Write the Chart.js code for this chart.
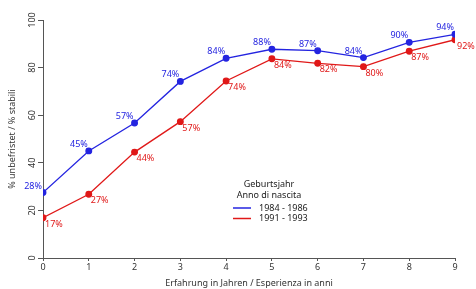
<!DOCTYPE html>
<html>
<head>
<meta charset="utf-8">
<script src="https://cdn.jsdelivr.net/npm/chart.js@4/dist/chart.umd.min.js"></script>
<style>
  html, body { margin: 0; padding: 0; background: #fff; }
  #wrap { width: 476px; height: 289px; }
</style>
</head>
<body>
<div id="wrap"><canvas id="chart"></canvas></div>
<script>
// Erfahrung in Jahren
const jahre = [0, 1, 2, 3, 4, 5, 6, 7, 8, 9];

// 1984 - 1986
const werte8486 = [27.5, 45, 56.7, 74.2, 83.9, 87.7, 87.1, 84.2, 90.6, 94];
const labels8486 = ["28%", "45%", "57%", "74%", "84%", "88%", "87%", "84%", "90%", "94%"];

// 1991 - 1993
const werte9193 = [16.9, 26.8, 44.5, 57.3, 74.4, 83.7, 81.8, 80.4, 86.9, 91.7];
const labels9193 = ["17%", "27%", "44%", "57%", "74%", "84%", "82%", "80%", "87%", "92%"];

const yTicks = [0, 20, 40, 60, 80, 100];

const BLAU = "#2424e0";
const ROT = "#e01818";
const ACHSE = "#555";
const FONT = "'Noto Sans', sans-serif";

// Prozent-Beschriftungen an den Punkten
const punktLabels = {
  id: "punktLabels",
  afterDatasetsDraw(chart) {
    const ctx = chart.ctx;
    ctx.save();
    ctx.font = "9px " + FONT;
    chart.data.datasets.forEach((ds, i) => {
      const meta = chart.getDatasetMeta(i);
      meta.data.forEach((pt, j) => {
        ctx.fillStyle = ds.borderColor;
        if (i === 0) {
          ctx.textAlign = "right";
          ctx.textBaseline = "bottom";
          ctx.fillText(ds.pctLabels[j], pt.x - 1, pt.y - 2);
        } else {
          ctx.textAlign = "left";
          ctx.textBaseline = "top";
          ctx.fillText(ds.pctLabels[j], pt.x + 2, pt.y + 2);
        }
      });
    });
    ctx.restore();
  }
};

// gedrehte y-Achsenbeschriftung
const yLabels = {
  id: "yLabels",
  afterDraw(chart) {
    const ctx = chart.ctx;
    const y = chart.scales.y;
    ctx.save();
    ctx.font = "9px " + FONT;
    ctx.fillStyle = "#333";
    ctx.textAlign = "center";
    ctx.textBaseline = "middle";
    y.ticks.forEach(t => {
      ctx.save();
      ctx.translate(y.right - 11, y.getPixelForValue(t.value));
      ctx.rotate(-Math.PI / 2);
      ctx.fillText(String(t.value), 0, 0);
      ctx.restore();
    });
    ctx.restore();
  }
};

// Legende im Diagramm
const legende = {
  id: "legende",
  afterDraw(chart) {
    const ctx = chart.ctx;
    ctx.save();
    ctx.font = "9px " + FONT;
    ctx.fillStyle = "#222";
    ctx.textAlign = "center";
    ctx.textBaseline = "middle";
    ctx.fillText("Geburtsjahr", 269, 184);
    ctx.fillText("Anno di nascita", 269, 195);
    ctx.textAlign = "left";
    chart.data.datasets.forEach((ds, i) => {
      const y = 208 + i * 10.5;
      ctx.strokeStyle = ds.borderColor;
      ctx.lineWidth = 1.5;
      ctx.beginPath();
      ctx.moveTo(233, y);
      ctx.lineTo(251, y);
      ctx.stroke();
      ctx.fillStyle = "#222";
      ctx.fillText(ds.label, 259, y);
    });
    ctx.restore();
  }
};

new Chart(document.getElementById("chart"), {
  type: "line",
  data: {
    datasets: [
      {
        label: "1984 - 1986",
        data: jahre.map((x, i) => ({ x: x, y: werte8486[i] })),
        pctLabels: labels8486,
        borderColor: BLAU,
        backgroundColor: BLAU,
        borderWidth: 1.3,
        pointRadius: 2.8,
        tension: 0
      },
      {
        label: "1991 - 1993",
        data: jahre.map((x, i) => ({ x: x, y: werte9193[i] })),
        pctLabels: labels9193,
        borderColor: ROT,
        backgroundColor: ROT,
        borderWidth: 1.3,
        pointRadius: 2.8,
        tension: 0
      }
    ]
  },
  options: {
    responsive: true,
    maintainAspectRatio: false,
    animation: false,
    layout: { padding: { top: 20, right: 21, left: 7, bottom: 0 } },
    plugins: {
      legend: { display: false },
      tooltip: { enabled: false }
    },
    scales: {
      x: {
        type: "linear",
        min: 0,
        max: 9,
        afterFit: (scale) => { scale.height = 31; },
        afterBuildTicks: (scale) => { scale.ticks = jahre.map(v => ({ value: v })); },
        grid: { display: true, drawOnChartArea: false, tickLength: 3, tickColor: ACHSE },
        border: { color: ACHSE, width: 1 },
        ticks: { color: "#333", font: { family: FONT, size: 9 }, padding: 1, maxRotation: 0 },
        title: { display: true, text: "Erfahrung in Jahren / Esperienza in anni", color: "#333", font: { family: FONT, size: 9 }, padding: { top: 4, bottom: 0 } }
      },
      y: {
        min: 0,
        max: 100,
        afterFit: (scale) => { scale.width = 36; },
        afterBuildTicks: (scale) => { scale.ticks = yTicks.map(v => ({ value: v })); },
        grid: { display: true, drawOnChartArea: false, tickLength: 5, tickColor: ACHSE },
        border: { color: ACHSE, width: 1 },
        ticks: { display: false },
        title: { display: true, text: "% unbefristet / % stabili", color: "#333", font: { family: FONT, size: 9 }, padding: { top: 0, bottom: 0 } }
      }
    }
  },
  plugins: [punktLabels, yLabels, legende]
});
</script>
</body>
</html>
